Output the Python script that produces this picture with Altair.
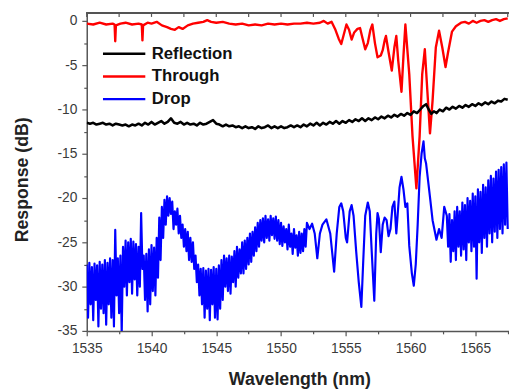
import altair as alt
import pandas as pd

# ---------------- data ----------------
refl_x = [1535.0,1535.25,1535.5,1535.75,1536.0,1536.25,1536.5,1536.75,1537.0,1537.25,1537.5,1537.75,
          1538.0,1538.25,1538.5,1538.75,1539.0,1539.25,1539.5,1539.75,1540.0,1540.25,1540.5,1540.75,
          1541.0,1541.25,1541.5,1541.75,1542.0,1542.25,1542.5,1542.75,1543.0,1543.25,1543.5,1543.75,
          1544.0,1544.25,1544.5,1544.75,1545.0,1545.25,1545.5,1545.75,1546.0,1546.25,1546.5,1546.75,
          1547.0,1547.25,1547.5,1547.75,1548.0,1548.25,1548.5,1548.75,1549.0,1549.25,1549.5,1549.75,
          1550.0,1550.25,1550.5,1550.75,1551.0,1551.25,1551.5,1551.75,1552.0,1552.25,1552.5,1552.75,
          1553.0,1553.25,1553.5,1553.75,1554.0,1554.25,1554.5,1554.75,1555.0,1555.25,1555.5,1555.75,
          1556.0,1556.25,1556.5,1556.75,1557.0,1557.25,1557.5,1557.75,1558.0,1558.25,1558.5,1558.75,
          1559.0,1559.25,1559.5,1559.75,1560.0,1560.25,1560.5,1560.75,1561.0,1561.2,1561.4,1561.6,
          1561.8,1562.0,1562.25,1562.5,1562.75,1563.0,1563.25,1563.5,1563.75,1564.0,1564.25,1564.5,
          1564.75,1565.0,1565.25,1565.5,1565.75,1566.0,1566.25,1566.5,1566.75,1567.0,1567.25,1567.5]
refl_y = [-11.5,-11.6,-11.5,-11.7,-11.6,-11.5,-11.7,-11.6,-11.8,-11.6,-11.7,-11.8,
          -11.7,-11.9,-11.7,-11.8,-11.6,-11.8,-11.5,-11.7,-11.4,-11.7,-11.5,-11.3,
          -11.6,-11.4,-11.0,-11.5,-11.6,-11.4,-11.7,-11.5,-11.7,-11.6,-11.8,-11.5,
          -11.7,-11.6,-11.4,-11.2,-11.6,-11.7,-11.9,-11.7,-11.9,-11.8,-12.0,-11.9,
          -12.1,-11.9,-12.1,-12.0,-12.2,-11.9,-12.1,-12.0,-11.8,-12.1,-11.9,-12.1,
          -11.9,-12.1,-12.0,-11.8,-12.0,-11.8,-12.0,-11.7,-11.9,-11.6,-11.8,-11.5,
          -11.8,-11.5,-11.7,-11.4,-11.6,-11.3,-11.6,-11.3,-11.5,-11.2,-11.4,-11.1,
          -11.3,-11.0,-11.3,-11.0,-11.2,-10.9,-11.1,-10.8,-11.0,-10.7,-10.9,-10.6,
          -10.8,-10.5,-10.7,-10.4,-10.6,-10.2,-10.4,-10.0,-9.6,-9.4,-10.0,-10.5,
          -10.2,-10.4,-10.0,-10.2,-9.8,-10.0,-9.7,-9.9,-9.6,-9.8,-9.5,-9.7,
          -9.4,-9.6,-9.3,-9.5,-9.2,-9.4,-9.1,-9.3,-9.0,-9.1,-8.8,-8.9]

thru_x = [1535.0,1535.5,1536.0,1536.5,1537.0,1537.15,1537.2,1537.25,1537.6,1538.0,
          1538.5,1539.0,1539.25,1539.3,1539.35,1539.7,1540.0,1540.4,1540.8,1541.2,
          1541.5,1541.8,1542.1,1542.4,1542.8,1543.2,1543.6,1544.0,1544.3,1544.6,
          1545.0,1545.5,1546.0,1546.5,1547.0,1547.5,1548.0,1548.5,1549.0,1549.5,
          1550.0,1550.5,1551.0,1551.5,1552.0,1552.5,1553.0,1553.3,1553.6,1553.9,
          1554.2,1554.45,1554.65,1554.85,1555.05,1555.25,1555.45,1555.65,1555.9,1556.1,
          1556.3,1556.5,1556.7,1556.9,1557.05,1557.25,1557.45,1557.7,1557.85,1558.0,
          1558.1,1558.3,1558.55,1558.75,1558.9,1559.05,1559.3,1559.45,1559.6,1559.9,
          1560.15,1560.45,1560.7,1560.9,1561.1,1561.3,1561.5,1561.7,1561.95,1562.2,
          1562.45,1562.7,1562.9,1563.2,1563.5,1563.9,1564.2,1564.5,1564.8,1565.1,
          1565.4,1565.7,1566.0,1566.3,1566.6,1566.9,1567.2,1567.5]
thru_y = [-0.3,-0.4,-0.2,-0.4,-0.3,-0.4,-2.3,-0.5,-0.3,-0.2,
          -0.4,-0.3,-0.4,-2.2,-0.5,-0.2,-0.3,-0.1,-0.5,-0.7,
          -0.9,-1.0,-0.7,-0.9,-0.5,-0.3,-0.2,-0.1,0.1,-0.1,
          -0.2,-0.1,-0.3,-0.4,-0.3,-0.5,-0.4,-0.5,-0.3,-0.4,
          -0.3,-0.4,-0.3,-0.3,-0.2,-0.3,-0.2,0.0,-0.3,-0.1,
          -1.0,-2.0,-2.6,-1.5,-0.4,-1.0,-2.1,-1.3,-0.9,-0.8,
          -2.0,-3.2,-2.5,-1.0,-0.4,-2.5,-4.1,-3.9,-3.3,-2.2,
          -1.7,-3.5,-5.6,-3.0,-1.7,-4.5,-8.0,-4.0,-0.4,-6.0,
          -13.0,-18.9,-13.0,-6.0,-3.2,-8.0,-12.7,-9.0,-3.0,-1.1,
          -3.0,-5.2,-3.5,-1.2,-0.6,-0.2,-0.1,-0.3,0.0,-0.2,
          0.0,0.1,-0.1,0.1,0.2,0.0,0.2,0.3]

# Drop: noisy band 1535.0 ... 1551.8 (every 0.2 nm): upper / lower envelope
band_step = 0.2
drop_band1_start = 1535.0
drop_band1_hi = [-27.5,-27.3,-27.8,-27.4,-27.6,-27.2,-27.5,-27.0,-27.3,-26.8,
                 -27.0,-23.6,-26.8,-26.5,-25.5,-24.8,-25.0,-24.6,-24.9,-25.2,
                 -25.5,-21.7,-26.5,-26.3,-25.8,-25.3,-25.6,-24.5,-22.2,-21.0,
                 -20.2,-19.8,-20.0,-20.4,-21.5,-21.2,-22.0,-23.0,-23.5,-23.8,
                 -24.5,-25.0,-26.5,-27.5,-28.0,-27.9,-28.2,-28.0,-28.1,-27.8,
                 -28.0,-27.6,-27.0,-26.5,-26.8,-26.5,-26.6,-26.0,-25.5,-25.8,
                 -25.0,-24.8,-24.5,-24.0,-23.8,-23.3,-22.8,-22.5,-22.3,-22.0,
                 -22.4,-22.0,-22.3,-22.1,-22.5,-22.8,-23.2,-23.5,-23.0,-24.0,
                 -23.5,-24.2,-23.8,-24.0,-23.5]
drop_band1_lo = [-33.5,-32.0,-33.8,-31.5,-34.5,-32.5,-33.0,-34.3,-32.0,-33.5,
                 -34.5,-31.0,-33.0,-35.3,-30.0,-31.0,-29.5,-30.8,-29.2,-31.0,
                 -30.0,-28.0,-31.5,-32.8,-32.0,-30.5,-31.0,-29.0,-27.0,-24.5,
                 -23.0,-22.0,-21.8,-23.5,-23.0,-24.0,-24.5,-25.5,-26.0,-27.0,
                 -27.2,-28.0,-29.5,-31.0,-32.0,-33.5,-32.5,-33.8,-32.0,-33.5,
                 -33.7,-32.5,-31.5,-30.0,-30.5,-30.8,-29.5,-30.0,-29.0,-28.5,
                 -28.5,-28.0,-27.5,-27.2,-26.5,-26.0,-25.5,-24.8,-25.0,-24.5,
                 -24.8,-24.2,-24.6,-24.8,-25.2,-25.4,-25.0,-25.8,-25.5,-26.3,
                 -25.6,-26.5,-26.2,-26.0,-25.5]
# Drop: resonance region, single trace
drop_mid_x = [1552.0,1552.2,1552.4,1552.6,1552.8,1553.0,1553.2,1553.5,1553.8,1554.1,
              1554.3,1554.5,1554.65,1554.8,1555.0,1555.1,1555.3,1555.45,1555.6,1555.8,
              1556.0,1556.2,1556.35,1556.5,1556.7,1556.85,1557.0,1557.2,1557.35,1557.45,
              1557.55,1557.7,1557.85,1558.0,1558.15,1558.3,1558.45,1558.6,1558.75,1558.9,
              1559.0,1559.15,1559.3,1559.45,1559.6,1559.75,1559.9,1560.1,1560.25,1560.4,
              1560.55,1560.7,1560.85,1561.0,1561.1,1561.2,1561.35,1561.5,1561.7,1561.85,
              1562.0,1562.2,1562.4,1562.6]
drop_mid_y = [-22.8,-23.5,-22.9,-24.0,-26.8,-24.0,-23.0,-22.4,-24.0,-28.3,
              -24.0,-21.0,-20.6,-21.5,-24.5,-25.0,-21.5,-20.8,-22.0,-26.0,
              -29.5,-32.3,-27.0,-22.0,-20.5,-21.5,-26.0,-31.6,-24.0,-21.7,
              -22.3,-26.1,-23.0,-22.2,-22.5,-24.3,-23.5,-21.0,-20.4,-24.0,
              -22.0,-18.8,-17.6,-19.0,-21.0,-20.6,-25.4,-28.5,-29.9,-27.5,
              -23.0,-17.6,-15.0,-13.6,-15.5,-16.1,-18.0,-19.9,-22.5,-23.6,
              -24.7,-23.5,-24.5,-21.0]
# Drop: noisy band 1562.8 ... 1567.4
drop_band2_start = 1562.8
drop_band2_hi = [-22.0,-21.8,-22.5,-21.5,-21.0,-21.5,-20.5,-20.8,-20.0,-20.3,-19.5,-19.8,
                 -19.0,-19.3,-18.5,-18.8,-18.0,-17.5,-17.8,-17.0,-16.8,-16.5,-16.2,-16.0]
drop_band2_lo = [-25.5,-27.2,-26.0,-27.0,-25.5,-26.5,-25.8,-27.0,-25.0,-26.0,-25.5,-29.1,
                 -25.0,-26.2,-24.5,-25.5,-24.0,-25.0,-23.8,-24.5,-23.5,-24.0,-23.0,-23.5]

x_ticks = [1535, 1537.5, 1540, 1542.5, 1545, 1547.5, 1550, 1552.5, 1555, 1557.5, 1560, 1562.5, 1565, 1567.5]
y_ticks = [-35, -32.5, -30, -27.5, -25, -22.5, -20, -17.5, -15, -12.5, -10, -7.5, -5, -2.5, 0]

series_names = ["Reflection", "Through", "Drop"]
series_colors = ["#000000", "#ff0000", "#0000ff"]
series_widths = [2.6, 2.2, 1.8]

# ---------------- build table ----------------
def band(start, hi, lo):
    xs, ys = [], []
    for i, (h, l) in enumerate(zip(hi, lo)):
        x0 = round(start + band_step * i, 3)
        xs += [x0, round(x0 + band_step / 2, 3)]
        ys += [h, l]
    return xs, ys

b1x, b1y = band(drop_band1_start, drop_band1_hi, drop_band1_lo)
b2x, b2y = band(drop_band2_start, drop_band2_hi, drop_band2_lo)
drop_x = b1x + drop_mid_x + b2x
drop_y = b1y + drop_mid_y + b2y

rows = []
for name, xs, ys in [("Drop", drop_x, drop_y), ("Through", thru_x, thru_y), ("Reflection", refl_x, refl_y)]:
    for i, (xv, yv) in enumerate(zip(xs, ys)):
        rows.append({"series": name, "x": xv, "y": yv, "idx": i})
df = pd.DataFrame(rows)
tick_df = pd.DataFrame({"x": x_ticks})

W, H = 429, 323
FONT = "Liberation Sans"
x_scale = alt.Scale(domain=[1535, 1567.6], nice=False, zero=False)
y_scale = alt.Scale(domain=[-35, 0.9], nice=False, zero=False)
major5 = "datum.value % 5 === 0"

x_axis = alt.Axis(
    values=x_ticks, title="Wavelength (nm)",
    labelExpr=f"{major5} ? '' + datum.value : ''",
    tickSize={"condition": {"test": major5, "value": 5}, "value": 3},
    labelOverlap=False, labelFlush=False, grid=False,
    domainColor="#555555", domainWidth=1.5, tickColor="#555555", tickWidth=1.2,
    labelFont=FONT, labelFontSize=14, labelColor="#3a3a3a", labelPadding=6,
    titleFont=FONT, titleFontSize=18, titleFontWeight="bold", titleColor="#222222",
    titleX=216, titleY=54, titleBaseline="alphabetic", titleAlign="center",
)
y_axis = alt.Axis(
    values=y_ticks, title="Response (dB)",
    labelExpr=f"{major5} ? '' + datum.value : ''",
    tickSize={"condition": {"test": major5, "value": 5}, "value": 3},
    labelOverlap=False, labelFlush=False, grid=False,
    domainColor="#555555", domainWidth=1.5, tickColor="#555555", tickWidth=1.2,
    labelFont=FONT, labelFontSize=14, labelColor="#3a3a3a", labelPadding=5,
    titleFont=FONT, titleFontSize=18, titleFontWeight="bold", titleColor="#222222",
    titleAngle=270, titleX=-65, titleY=169, titleBaseline="middle", titleAlign="center",
)

lines = alt.Chart(df).mark_line(clip=True, strokeJoin="round").encode(
    x=alt.X("x:Q", scale=x_scale, axis=x_axis),
    y=alt.Y("y:Q", scale=y_scale, axis=y_axis),
    color=alt.Color("series:N", scale=alt.Scale(domain=series_names, range=series_colors),
                    legend=alt.Legend(title=None, orient="none", legendX=15, legendY=31,
                                      symbolType="stroke", symbolSize=1849, symbolStrokeWidth=3,
                                      clipHeight=21, rowPadding=2,
                                      labelFont=FONT, labelFontSize=17, labelFontWeight="bold",
                                      labelColor="#111111", labelOffset=5)),
    strokeWidth=alt.StrokeWidth("series:N", scale=alt.Scale(domain=series_names, range=series_widths),
                                legend=None),
    order="idx:Q",
)

top_ticks = alt.Chart(tick_df).mark_rule(color="#555555", strokeWidth=1.2).encode(
    x=alt.X("x:Q", scale=x_scale, axis=x_axis), y=alt.value(0), y2=alt.value(4)
)
top_border = alt.Chart(tick_df).mark_rule(color="#555555", strokeWidth=1.5).encode(
    x=alt.value(0), x2=alt.value(W), y=alt.value(0)
)

chart = alt.layer(lines, top_ticks, top_border).properties(
    width=W, height=H,
    autosize=alt.AutoSizeParams(type="none"),
    padding={"left": 80, "top": 2, "right": 0, "bottom": 58},
    background="white",
).configure_view(stroke=None)

chart.save("out.html", embed_options={"renderer": "svg", "actions": False})
